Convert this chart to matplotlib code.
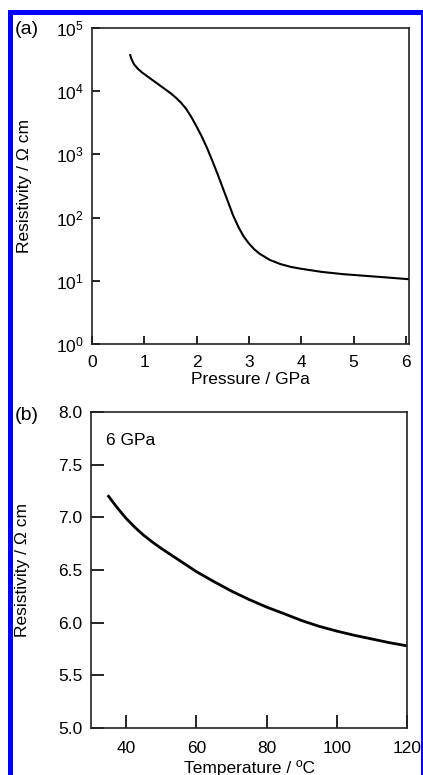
import numpy as np
import matplotlib
matplotlib.use("Agg")
import matplotlib.pyplot as plt
from matplotlib.patches import Rectangle
from matplotlib.ticker import LogFormatterSciNotation, NullLocator

plt.rcParams['font.family'] = ['Liberation Sans', 'DejaVu Sans']
plt.rcParams['mathtext.fontset'] = 'custom'
plt.rcParams['mathtext.rm'] = 'Liberation Sans'
plt.rcParams['mathtext.it'] = 'Liberation Sans:italic'
FS = 12.5

# (a) resistividad vs presion (log10 de rho)
presion_gpa = [0.73, 0.76, 0.8, 0.87, 0.95, 1.1, 1.3, 1.5, 1.6, 1.7, 1.8, 1.9,
               2.0, 2.1, 2.2, 2.3, 2.4, 2.5, 2.6, 2.7, 2.8, 2.9, 3.0, 3.1, 3.2,
               3.3, 3.4, 3.6, 3.8, 4.0, 4.4, 4.8, 5.2, 5.6, 6.06]
log_rho_a = [4.57, 4.50, 4.43, 4.36, 4.30, 4.21, 4.09, 3.97, 3.90, 3.82, 3.72,
             3.59, 3.44, 3.28, 3.10, 2.90, 2.69, 2.47, 2.25, 2.03, 1.85, 1.70,
             1.59, 1.50, 1.43, 1.38, 1.33, 1.265, 1.22, 1.19, 1.14, 1.105,
             1.08, 1.055, 1.025]

# (b) resistividad vs temperatura a 6 GPa
temp_c = [35, 37.5, 40, 42.5, 45, 47.5, 50, 52.5, 55, 57.5, 60, 65, 70, 75,
          80, 85, 90, 95, 100, 105, 110, 115, 120]
rho_b = [7.20, 7.09, 6.99, 6.905, 6.83, 6.765, 6.705, 6.65, 6.595, 6.54,
         6.485, 6.39, 6.30, 6.22, 6.148, 6.085, 6.02, 5.965, 5.92, 5.88,
         5.845, 5.81, 5.78]

xticks_a = [0, 1, 2, 3, 4, 5, 6]
yticks_a = [1e0, 1e1, 1e2, 1e3, 1e4, 1e5]
xticks_b = [40, 60, 80, 100, 120]
yticks_b = [5.0, 5.5, 6.0, 6.5, 7.0, 7.5, 8.0]

W, H = 423, 775
fig = plt.figure(figsize=(W / 100, H / 100), dpi=100)
fig.patch.set_facecolor('white')

def caja(px_l, px_r, px_t, px_b):
    return [px_l / W, 1 - px_b / H, (px_r - px_l) / W, (px_b - px_t) / H]

ax1 = fig.add_axes(caja(92, 409, 28, 344))
ax2 = fig.add_axes(caja(91, 407, 412, 728))

# Panel (a)
ax1.plot(presion_gpa, 10 ** np.array(log_rho_a), color='black', lw=1.5)
ax1.set_yscale('log')
ax1.set_xlim(0, 6.06)
ax1.set_ylim(1e0, 1e5)
ax1.set_xticks(xticks_a)
ax1.set_yticks(yticks_a)
ax1.yaxis.set_major_formatter(LogFormatterSciNotation())
ax1.yaxis.set_minor_locator(NullLocator())
ax1.tick_params(direction='in', length=5.8, width=1.2, pad=6, labelsize=FS)
ax1.tick_params(axis='x', pad=8)
ax1.set_xlabel('Pressure / GPa', fontsize=FS, labelpad=1.5)
ax1.set_ylabel('Resistivity / Ω cm', fontsize=FS)
ax1.yaxis.set_label_coords(-0.19, 0.5)

# Panel (b)
ax2.plot(temp_c, rho_b, color='black', lw=2)
ax2.set_xlim(30, 120)
ax2.set_ylim(5.0, 8.0)
ax2.set_xticks(xticks_b)
ax2.set_yticks(yticks_b)
ax2.set_yticklabels([f'{v:.1f}' for v in yticks_b])
ax2.tick_params(direction='in', length=9.4, width=1.2, pad=6, labelsize=FS)
ax2.tick_params(axis='x', pad=9.5)
ax2.set_xlabel('Temperature / ºC', fontsize=FS, labelpad=3)
ax2.set_ylabel('Resistivity / Ω cm', fontsize=FS)
ax2.yaxis.set_label_coords(-0.193, 0.5)
ax2.text(0.047, 0.911, '6 GPa', transform=ax2.transAxes, fontsize=FS,
         ha='left', va='center')

for ax in (ax1, ax2):
    for s in ax.spines.values():
        s.set_linewidth(1.2)
        s.set_color('#222222')

fig.text(27 / W, 1 - 29 / H, '(a)', fontsize=14, ha='center', va='center')
fig.text(27 / W, 1 - 416 / H, '(b)', fontsize=14, ha='center', va='center')

# Marco azul
azul = '#0000ff'
for x0, y0, w, h in [(8, 10, 5, H - 10), (8, 10, W - 8, 5), (420.5, 10, 3, H - 10)]:
    fig.add_artist(Rectangle((x0 / W, 1 - (y0 + h) / H), w / W, h / H,
                             transform=fig.transFigure, facecolor=azul,
                             edgecolor='none', zorder=20))

fig.savefig('out.png', dpi=100)
